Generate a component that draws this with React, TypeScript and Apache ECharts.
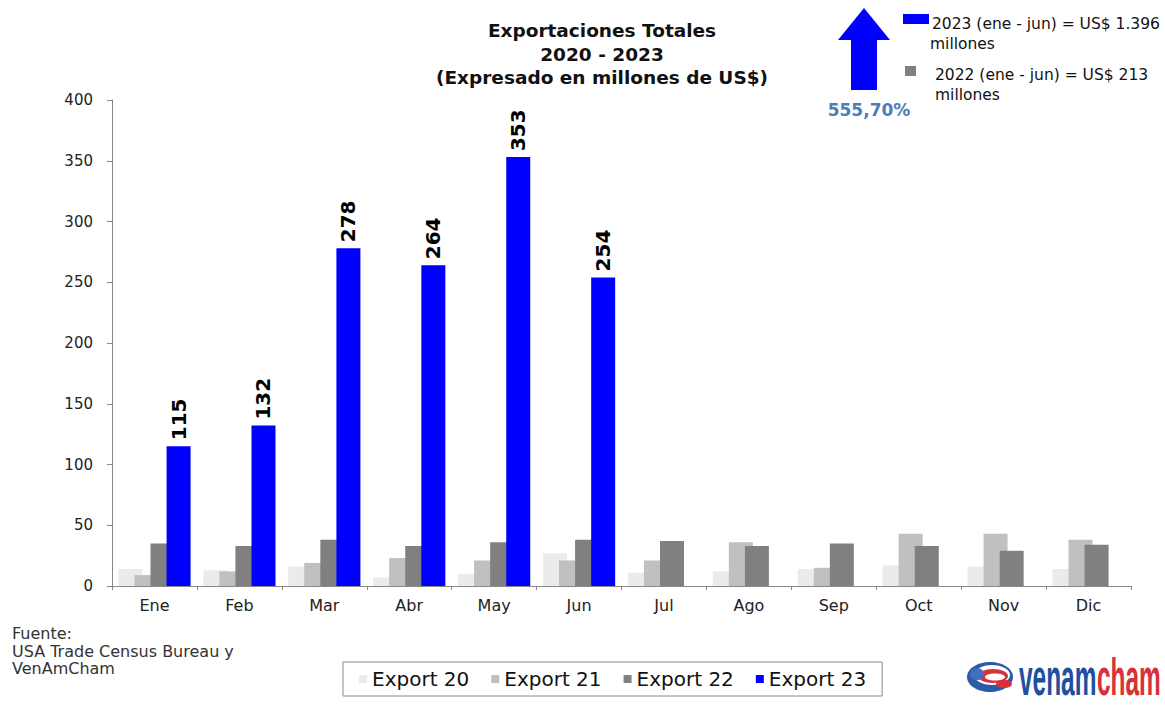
import React, { useEffect, useRef } from "react";
import * as echarts from "echarts";

const months = ["Ene", "Feb", "Mar", "Abr", "May", "Jun", "Jul", "Ago", "Sep", "Oct", "Nov", "Dic"];
const export20 = [14, 13, 16, 7, 10, 27, 11, 12, 14, 17, 16, 14];
const export21 = [9, 12, 19, 23, 21, 21, 21, 36, 15, 43, 43, 38];
const export22 = [35, 33, 38, 33, 36, 38, 37, 33, 35, 33, 29, 34];
const export23 = [115, 132, 278, 264, 353, 254, null, null, null, null, null, null];
const seriesNames = ["Export 20", "Export 21", "Export 22", "Export 23"];
const seriesColors = ["#ebebeb", "#c0c0c0", "#808080", "#0000ff"];
const titleLines = ["Exportaciones Totales", "2020 - 2023", "(Expresado en millones de US$)"];
const noteLines = ["2023 (ene - jun) = US$ 1.396", "millones", "2022 (ene - jun) = US$ 213", "millones"];
const growthText = "555,70%";
const sourceLines = ["Fuente:", "USA Trade Census Bureau y", "VenAmCham"];

const FONT = "'DejaVu Sans', Arial, sans-serif";
const LOGOFONT = "'Liberation Sans', Arial, sans-serif";

export default function App() {
  const ref = useRef<HTMLDivElement>(null);
  useEffect(() => {
    document.body.style.margin = "0";
    const chart = echarts.init(ref.current!, null, { renderer: "svg" });
    const data = [export20, export21, export22, export23];
    const series: any[] = data.map((d, i) => ({
      name: seriesNames[i],
      type: "bar",
      data: d,
      barWidth: 24,
      barGap: "-33%",
      itemStyle: { color: seriesColors[i] },
      label:
        i === 3
          ? {
              show: true,
              position: "top",
              rotate: 90,
              align: "left",
              verticalAlign: "middle",
              distance: 6,
              fontSize: 20,
              fontWeight: "bold",
              fontFamily: FONT,
              color: "#000",
            }
          : { show: false },
    }));
    chart.setOption({
      animation: false,
      backgroundColor: "#fff",
      textStyle: { fontFamily: FONT },
      title: {
        text: titleLines.join("\n"),
        left: 597,
        textAlign: "center",
        top: 14,
        textStyle: { fontSize: 18.5, fontWeight: "bold", color: "#111", lineHeight: 23.5, fontFamily: FONT },
      },
      grid: { left: 112, right: 34, top: 100, bottom: 127, containLabel: false },
      legend: {
        data: seriesNames,
        left: 343,
        top: 662,
        itemWidth: 8,
        itemHeight: 8,
        icon: "rect",
        itemGap: 22,
        borderColor: "#888",
        borderWidth: 1,
        padding: [7, 16, 7, 16],
        textStyle: { fontSize: 20, color: "#111", fontFamily: FONT },
      },
      xAxis: {
        type: "category",
        data: months,
        axisLine: { lineStyle: { color: "#888" } },
        axisTick: { show: true, length: 4, lineStyle: { color: "#888" } },
        axisLabel: { fontSize: 16, color: "#222", margin: 11, fontFamily: FONT },
      },
      yAxis: {
        type: "value",
        min: 0,
        max: 400,
        interval: 50,
        axisLine: { show: true, lineStyle: { color: "#888" } },
        axisTick: { show: true, length: 5, lineStyle: { color: "#888" } },
        splitLine: { show: false },
        axisLabel: { fontSize: 15, color: "#222", margin: 19, fontFamily: FONT },
      },
      series,
      graphic: [
        {
          type: "polygon",
          shape: {
            points: [
              [864, 8],
              [890, 40],
              [877, 40],
              [877, 90],
              [851, 90],
              [851, 40],
              [838, 40],
            ],
          },
          style: { fill: "#0000ff" },
        },
        {
          type: "text",
          x: 869,
          y: 110,
          style: {
            text: growthText,
            fill: "#4a7ebb",
            font: `bold 17px ${FONT}`,
            textAlign: "center",
            textVerticalAlign: "middle",
          },
        },
        { type: "rect", shape: { x: 903, y: 14, width: 26, height: 10 }, style: { fill: "#0000ff" } },
        { type: "rect", shape: { x: 905, y: 66, width: 11, height: 10 }, style: { fill: "#808080" } },
        {
          type: "text",
          x: 932,
          y: 24,
          style: { text: noteLines[0], fill: "#111", font: `15.5px ${FONT}`, textVerticalAlign: "middle" },
        },
        {
          type: "text",
          x: 930,
          y: 44,
          style: { text: noteLines[1], fill: "#111", font: `15.5px ${FONT}`, textVerticalAlign: "middle" },
        },
        {
          type: "text",
          x: 935,
          y: 75,
          style: { text: noteLines[2], fill: "#111", font: `15.5px ${FONT}`, textVerticalAlign: "middle" },
        },
        {
          type: "text",
          x: 935,
          y: 95,
          style: { text: noteLines[3], fill: "#111", font: `15.5px ${FONT}`, textVerticalAlign: "middle" },
        },
        {
          type: "text",
          x: 12,
          y: 625,
          style: {
            text: sourceLines.join("\n"),
            fill: "#333",
            font: `16px ${FONT}`,
            lineHeight: 17.5,
          },
        },
        // logo emblem
        {
          type: "group",
          x: 990,
          y: 677,
          children: [
            { type: "ellipse", shape: { cx: 0, cy: 0, rx: 23, ry: 15 }, style: { fill: "#2a5aa8" } },
            { type: "ellipse", shape: { cx: 2, cy: -2, rx: 18, ry: 10 }, style: { fill: "#fff" } },
            { type: "ellipse", shape: { cx: 3, cy: -1, rx: 15, ry: 7 }, style: { fill: "#d9303a" } },
            { type: "ellipse", shape: { cx: 5, cy: 0, rx: 10, ry: 3.5 }, style: { fill: "#fff" } },
            { type: "ellipse", shape: { cx: -13, cy: -3, rx: 7, ry: 6 }, style: { fill: "#3f6fbf" } },
            { type: "ellipse", shape: { cx: 14, cy: 7, rx: 8, ry: 4 }, style: { fill: "#d9303a" } },
          ],
        },
        {
          type: "text",
          x: 1019,
          y: 703,
          scaleX: 0.47,
          style: {
            text: "venam",
            fill: "#1f4fa0",
            font: `bold 52px ${LOGOFONT}`,
            textVerticalAlign: "bottom",
          },
        },
        {
          type: "text",
          x: 1097,
          y: 703,
          scaleX: 0.47,
          style: {
            text: "cham",
            fill: "#d9303a",
            font: `bold 52px ${LOGOFONT}`,
            textVerticalAlign: "bottom",
          },
        },
      ],
    });
    return () => chart.dispose();
  }, []);
  return <div ref={ref} style={{ width: 1165, height: 713 }} />;
}
